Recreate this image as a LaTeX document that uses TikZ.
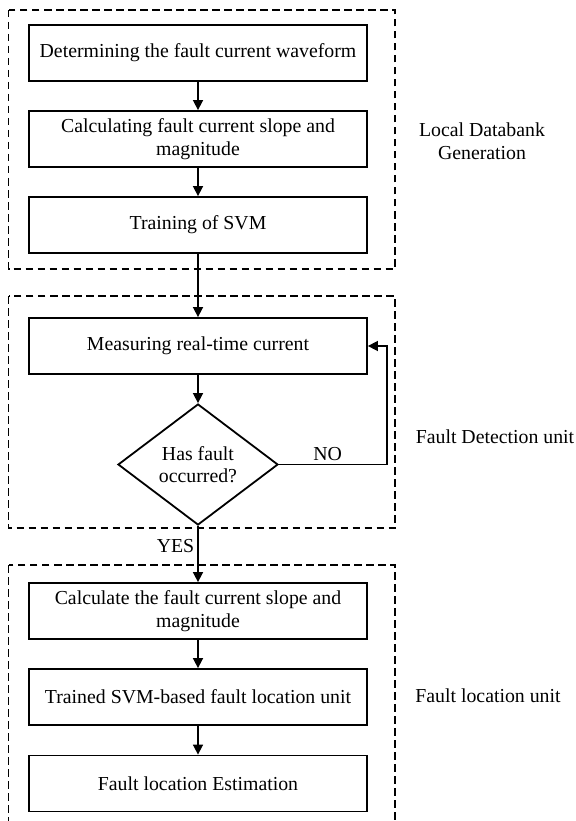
\documentclass[tikz,border=0pt]{standalone}
\usepackage{fontspec}
\setmainfont{Liberation Serif}
\usetikzlibrary{shapes.geometric,arrows.meta}
\begin{document}
\begin{tikzpicture}[x=1pt,y=-1pt,
  txt/.style={font=\fontsize{19.8}{22.5}\selectfont},
  stepbox/.style={draw,line width=1.8pt,minimum width=338pt,minimum height=56pt,inner sep=0pt,align=center,txt},
  decision/.style={draw,line width=1.8pt,shape=diamond,minimum width=160pt,minimum height=121pt,inner sep=0pt,aspect=1.32,align=center,txt},
  group/.style={draw,line width=1.8pt,dash pattern=on 7.5pt off 4.5pt},
  lbl/.style={align=center,txt},
  conn/.style={line width=1.6pt,-{Triangle[length=10pt,width=10pt]}}]
\useasboundingbox (0,0) rectangle (575,821);
\clip (0,0) rectangle (575,821);
\draw[group] (8.5,10) rectangle (395,269);
\draw[group] (8.5,296) rectangle (395,528);
\draw[group] (8.5,565) rectangle (395,835);
\node[stepbox] (b1) at (198,53) {Determining the fault current waveform};
\node[stepbox] (b2) at (198,139) {Calculating fault current slope and\\magnitude};
\node[stepbox] (b3) at (198,225) {Training of SVM};
\node[stepbox] (b4) at (198,346) {Measuring real-time current};
\node[decision] (d) at (198,464.5) {Has fault\\occurred?};
\node[stepbox] (b5) at (198,611) {Calculate the fault current slope and\\magnitude};
\node[stepbox] (b6) at (198,697) {Trained SVM-based fault location unit};
\node[stepbox] (b7) at (198,783.5) {Fault location Estimation};
\node[lbl] (l1) at (482,141) {Local Databank\\Generation};
\node[lbl] (l2) at (495,437) {Fault Detection unit};
\node[lbl] (l3) at (488,696) {Fault location unit};
\coordinate (c1) at (387,464.5);
\draw[conn] (b1) -- (b2);
\draw[conn] (b2) -- (b3);
\draw[conn] (b3) -- (b4);
\draw[conn] (b4) -- (d);
\draw[conn] (b5) -- (b6);
\draw[conn] (b6) -- (b7);
\draw[conn] (d) -- node[left,txt,inner sep=3pt,pos=0.35] (yes) {YES} (b5);
\draw[conn] (d.east) -- node[above,txt,inner sep=3pt,pos=0.45] (no) {NO} (c1) |- (b4.east);
\end{tikzpicture}
\end{document}
